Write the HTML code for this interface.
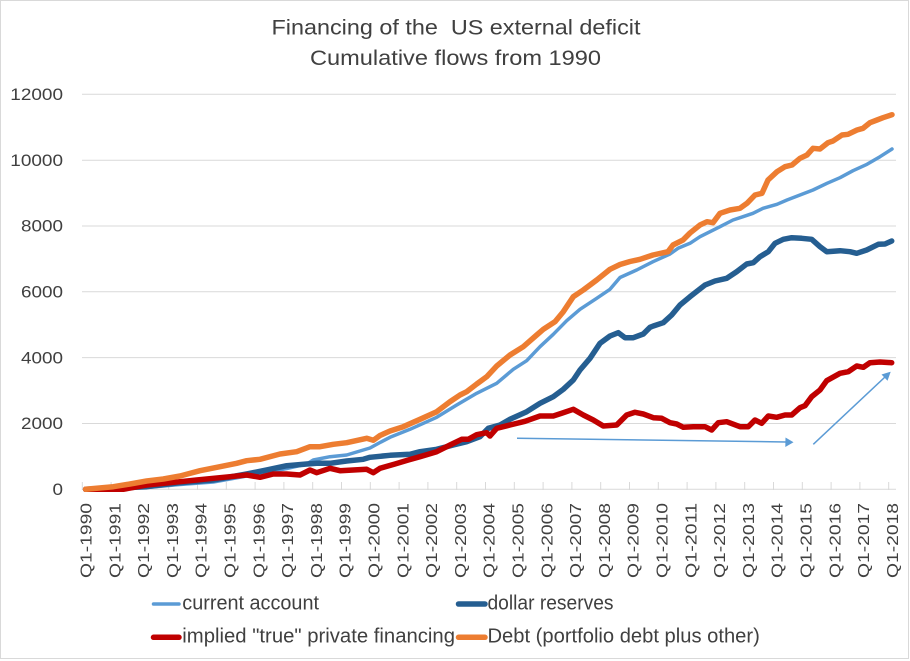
<!DOCTYPE html>
<html>
<head>
<meta charset="utf-8">
<style>
  html, body { margin: 0; padding: 0; background: #ffffff; }
  svg { display: block; }
  text { font-family: "Liberation Sans", sans-serif; fill: #404040; }
</style>
</head>
<body>
<svg width="910" height="661" viewBox="0 0 910 661" xmlns="http://www.w3.org/2000/svg">
  <rect x="0" y="0" width="910" height="661" fill="#ffffff"/>
  <rect x="0.5" y="0.5" width="908" height="658" fill="none" stroke="#D9D9D9" stroke-width="1"/>

  <!-- Title -->
  <text x="271.5" y="34.3" font-size="21" textLength="369" lengthAdjust="spacingAndGlyphs" style="white-space:pre">Financing of the  US external deficit</text>
  <text x="310" y="65" font-size="21" textLength="291" lengthAdjust="spacingAndGlyphs">Cumulative flows from 1990</text>

  <!-- Gridlines -->
  <g stroke="#D9D9D9" stroke-width="1">
    <line x1="82" y1="94.3" x2="896" y2="94.3"/>
    <line x1="82" y1="160.2" x2="896" y2="160.2"/>
    <line x1="82" y1="226" x2="896" y2="226"/>
    <line x1="82" y1="291.8" x2="896" y2="291.8"/>
    <line x1="82" y1="357.6" x2="896" y2="357.6"/>
    <line x1="82" y1="423.5" x2="896" y2="423.5"/>
    <line x1="82" y1="489.3" x2="896" y2="489.3"/>
  </g>

  <!-- X ticks -->
  <g stroke="#D9D9D9" stroke-width="1">
    <line x1="82.3" y1="482" x2="82.3" y2="490"/>
    <line x1="111.1" y1="482" x2="111.1" y2="490"/>
    <line x1="139.9" y1="482" x2="139.9" y2="490"/>
    <line x1="168.7" y1="482" x2="168.7" y2="490"/>
    <line x1="197.5" y1="482" x2="197.5" y2="490"/>
    <line x1="226.3" y1="482" x2="226.3" y2="490"/>
    <line x1="255.1" y1="482" x2="255.1" y2="490"/>
    <line x1="283.9" y1="482" x2="283.9" y2="490"/>
    <line x1="312.7" y1="482" x2="312.7" y2="490"/>
    <line x1="341.5" y1="482" x2="341.5" y2="490"/>
    <line x1="370.3" y1="482" x2="370.3" y2="490"/>
    <line x1="399.1" y1="482" x2="399.1" y2="490"/>
    <line x1="427.9" y1="482" x2="427.9" y2="490"/>
    <line x1="456.7" y1="482" x2="456.7" y2="490"/>
    <line x1="485.5" y1="482" x2="485.5" y2="490"/>
    <line x1="514.3" y1="482" x2="514.3" y2="490"/>
    <line x1="543.1" y1="482" x2="543.1" y2="490"/>
    <line x1="571.9" y1="482" x2="571.9" y2="490"/>
    <line x1="600.7" y1="482" x2="600.7" y2="490"/>
    <line x1="629.5" y1="482" x2="629.5" y2="490"/>
    <line x1="658.3" y1="482" x2="658.3" y2="490"/>
    <line x1="687.1" y1="482" x2="687.1" y2="490"/>
    <line x1="715.9" y1="482" x2="715.9" y2="490"/>
    <line x1="744.7" y1="482" x2="744.7" y2="490"/>
    <line x1="773.5" y1="482" x2="773.5" y2="490"/>
    <line x1="802.3" y1="482" x2="802.3" y2="490"/>
    <line x1="831.1" y1="482" x2="831.1" y2="490"/>
    <line x1="859.9" y1="482" x2="859.9" y2="490"/>
    <line x1="888.7" y1="482" x2="888.7" y2="490"/>
  </g>

  <!-- Y labels -->
  <g font-size="17" text-anchor="end">
    <text x="63" y="100" textLength="52.7" lengthAdjust="spacingAndGlyphs">12000</text>
    <text x="63" y="165.9" textLength="52.7" lengthAdjust="spacingAndGlyphs">10000</text>
    <text x="63" y="231.7" textLength="42" lengthAdjust="spacingAndGlyphs">8000</text>
    <text x="63" y="297.5" textLength="42" lengthAdjust="spacingAndGlyphs">6000</text>
    <text x="63" y="363.3" textLength="42" lengthAdjust="spacingAndGlyphs">4000</text>
    <text x="63" y="429.2" textLength="42" lengthAdjust="spacingAndGlyphs">2000</text>
    <text x="63" y="495" textLength="10.5" lengthAdjust="spacingAndGlyphs">0</text>
  </g>

  <!-- X labels (rotated) -->
  <g font-size="16" text-anchor="end">
    <text transform="translate(91.5,503) rotate(-90)" textLength="75" lengthAdjust="spacingAndGlyphs">Q1-1990</text>
    <text transform="translate(120.3,503) rotate(-90)" textLength="75" lengthAdjust="spacingAndGlyphs">Q1-1991</text>
    <text transform="translate(149.1,503) rotate(-90)" textLength="75" lengthAdjust="spacingAndGlyphs">Q1-1992</text>
    <text transform="translate(177.9,503) rotate(-90)" textLength="75" lengthAdjust="spacingAndGlyphs">Q1-1993</text>
    <text transform="translate(206.7,503) rotate(-90)" textLength="75" lengthAdjust="spacingAndGlyphs">Q1-1994</text>
    <text transform="translate(235.5,503) rotate(-90)" textLength="75" lengthAdjust="spacingAndGlyphs">Q1-1995</text>
    <text transform="translate(264.3,503) rotate(-90)" textLength="75" lengthAdjust="spacingAndGlyphs">Q1-1996</text>
    <text transform="translate(293.1,503) rotate(-90)" textLength="75" lengthAdjust="spacingAndGlyphs">Q1-1997</text>
    <text transform="translate(321.9,503) rotate(-90)" textLength="75" lengthAdjust="spacingAndGlyphs">Q1-1998</text>
    <text transform="translate(350.7,503) rotate(-90)" textLength="75" lengthAdjust="spacingAndGlyphs">Q1-1999</text>
    <text transform="translate(379.5,503) rotate(-90)" textLength="75" lengthAdjust="spacingAndGlyphs">Q1-2000</text>
    <text transform="translate(408.3,503) rotate(-90)" textLength="75" lengthAdjust="spacingAndGlyphs">Q1-2001</text>
    <text transform="translate(437.1,503) rotate(-90)" textLength="75" lengthAdjust="spacingAndGlyphs">Q1-2002</text>
    <text transform="translate(465.9,503) rotate(-90)" textLength="75" lengthAdjust="spacingAndGlyphs">Q1-2003</text>
    <text transform="translate(494.7,503) rotate(-90)" textLength="75" lengthAdjust="spacingAndGlyphs">Q1-2004</text>
    <text transform="translate(523.5,503) rotate(-90)" textLength="75" lengthAdjust="spacingAndGlyphs">Q1-2005</text>
    <text transform="translate(552.3,503) rotate(-90)" textLength="75" lengthAdjust="spacingAndGlyphs">Q1-2006</text>
    <text transform="translate(581.1,503) rotate(-90)" textLength="75" lengthAdjust="spacingAndGlyphs">Q1-2007</text>
    <text transform="translate(609.9,503) rotate(-90)" textLength="75" lengthAdjust="spacingAndGlyphs">Q1-2008</text>
    <text transform="translate(638.7,503) rotate(-90)" textLength="75" lengthAdjust="spacingAndGlyphs">Q1-2009</text>
    <text transform="translate(667.5,503) rotate(-90)" textLength="75" lengthAdjust="spacingAndGlyphs">Q1-2010</text>
    <text transform="translate(696.3,503) rotate(-90)" textLength="75" lengthAdjust="spacingAndGlyphs">Q1-2011</text>
    <text transform="translate(725.1,503) rotate(-90)" textLength="75" lengthAdjust="spacingAndGlyphs">Q1-2012</text>
    <text transform="translate(753.9,503) rotate(-90)" textLength="75" lengthAdjust="spacingAndGlyphs">Q1-2013</text>
    <text transform="translate(782.7,503) rotate(-90)" textLength="75" lengthAdjust="spacingAndGlyphs">Q1-2014</text>
    <text transform="translate(811.5,503) rotate(-90)" textLength="75" lengthAdjust="spacingAndGlyphs">Q1-2015</text>
    <text transform="translate(840.3,503) rotate(-90)" textLength="75" lengthAdjust="spacingAndGlyphs">Q1-2016</text>
    <text transform="translate(869.1,503) rotate(-90)" textLength="75" lengthAdjust="spacingAndGlyphs">Q1-2017</text>
    <text transform="translate(897.9,503) rotate(-90)" textLength="75" lengthAdjust="spacingAndGlyphs">Q1-2018</text>
  </g>

  <!-- Series -->
  <g fill="none" stroke-linejoin="round" stroke-linecap="round">
    <!-- current account -->
    <polyline stroke="#5B9BD5" stroke-width="3.5" points="85.6,489.3 113,489 146.7,487.5 180,484.5 213.3,482 246.7,476 266.7,472.5 286.7,468.5 306.7,464 313.3,460 330,456.7 346.7,455 363.3,450 370,448 380,442.5 390,437.3 410,429.3 436.7,417.3 456.7,405 476.7,393.3 496.7,383.3 513.3,369.3 526.7,360.7 540,346.7 553.3,334.3 566.7,320.7 580,309.3 596.7,298.3 610,289.3 620,277.5 636.7,270 653,261.7 670,254 678,248.3 690,243.3 700,236.7 710,231.7 720,226.7 733,220 743,216.7 753,213.3 763,208.3 777,204.3 787,200 800,195 813,190 827,183.3 840,177.7 853,170.7 867,164.3 880,156.7 892,149"/>
    <!-- dollar reserves -->
    <polyline stroke="#255E91" stroke-width="5.5" points="85.6,489.3 113,488.3 146.7,486.7 180,482.7 213.3,480 246.7,474 266.7,470 286.7,465.7 306.7,464 316.7,463.3 330,463.3 346.7,461 363.3,459.3 370,457.3 390,455.3 410,454.3 420,451.7 436.7,449.3 453.3,445 466.7,441.7 480,436.7 488.3,428.3 500,425 510,419.3 526.7,411.7 540,403.3 553.3,396.7 563.3,389.3 573.3,380 580,370 590,358.3 600,343.3 610,336 618.3,332.7 625,337.7 633.3,337.7 643.3,334 650,327.3 653.3,326 663.3,322.7 671.7,315 680,305 690,296.7 705,285 715,281 726.7,278.3 736.7,271.7 746.7,264 753.3,262.7 760,256.7 768.3,251.7 775,243.3 783.3,239.3 791.7,237.7 801.7,238.3 811.7,239.3 820,246.7 826.7,251.7 840,250.7 850,251.7 856.7,253.3 866.7,250 878.3,244.3 885,244 891.7,241"/>
    <!-- implied private financing -->
    <polyline stroke="#C00000" stroke-width="5.5" points="85.6,489.3 123.3,489.3 146.7,485 180,481.7 196.7,480 213.3,478.3 230,476.7 246.7,475 260,477.3 273.3,474 286.7,474 300,475 310,470 316.7,472.7 330,468.3 340,470.7 353.3,470 366.7,469.3 373.3,472.7 380,468.3 395,464 408.3,460 420,456.7 436.7,451.7 450,445 461.7,439.3 468.3,439.3 476.7,434.7 486.7,432.7 490,436 496.7,428.3 510,425 525,421.3 540,416 553.3,416 561.7,413.3 573.3,409.3 583.3,415 593.3,420 603.3,426 616.7,425 626.7,415 635,412.3 643.3,414 653.3,417.7 661.7,418.3 670,422.7 676.7,424 683.3,427.3 693.3,426.7 705,426.7 711.7,430 718.3,422.7 726.7,421.7 740,426.7 748.3,426.7 755,420 761.7,423.3 768.3,416 776.7,417.3 785,415 791.7,415 800,407.7 805,405.7 811.7,396.7 820,390 826.7,380.7 840,373.3 848.3,371.7 856.7,366 863.3,367.3 870,362.7 880,362 891.7,362.7"/>
    <!-- Debt -->
    <polyline stroke="#ED7D31" stroke-width="5.5" points="85.6,489.3 113.3,486.7 130,484 146.7,481 163.3,479 180,476 200,470.7 220,466.7 236.7,463.3 246.7,460.7 260,459.3 280,454 296.7,451.7 310,446.7 320,446.7 333.3,444.3 346.7,442.7 366.7,438.3 373.3,440.3 380,435.5 390,431 403.3,426.7 420,419.3 436.7,411.7 450,401.7 460,395 466.7,391.7 476.7,384 486.7,376.7 496.7,366 510,355 523.3,346.7 536.7,335 543.3,329.3 555,321.7 563.3,311.7 573.3,296.7 583.3,290 596.7,280 610,269.3 620,264.5 630,261.5 640,259.3 653,255 668,251.7 673,245 683,240 690,233 700,225 707,221.7 713,222.7 720,213.3 730,210 740,208.3 747,203.3 755,195 762,193.3 768,180 777,171.7 785,166.7 792,165 800,158.3 807,155 813,148.3 820,149 828,142.7 833,141 842,135 848,134.3 857,130 863,128.3 870,122.7 877,120 883,117.7 892,114.7"/>
  </g>

  <!-- Annotation arrows -->
  <g stroke="#5B9BD5" stroke-width="1.5" fill="none">
    <line x1="517" y1="438.3" x2="786" y2="442"/>
    <line x1="813.3" y1="444.3" x2="885" y2="377"/>
  </g>
  <polygon points="793.5,442.3 785.5,437.5 785.3,447" fill="#5B9BD5"/>
  <polygon points="890.7,371.7 881.5,374.5 887.5,380.8" fill="#5B9BD5"/>

  <!-- Legend -->
  <g stroke-linecap="round" fill="none">
    <line x1="153.5" y1="604" x2="179" y2="604" stroke="#5B9BD5" stroke-width="3.5"/>
    <line x1="458.5" y1="604" x2="485" y2="604" stroke="#255E91" stroke-width="5.5"/>
    <line x1="153.5" y1="637.3" x2="179" y2="637.3" stroke="#C00000" stroke-width="5.5"/>
    <line x1="458.5" y1="637.3" x2="485" y2="637.3" stroke="#ED7D31" stroke-width="5.5"/>
  </g>
  <g font-size="20">
    <text x="182.3" y="609.5" textLength="136.7" lengthAdjust="spacingAndGlyphs">current account</text>
    <text x="487.5" y="609.5" textLength="126" lengthAdjust="spacingAndGlyphs">dollar reserves</text>
    <text x="182.3" y="642.5" textLength="272.7" lengthAdjust="spacingAndGlyphs">implied "true" private financing</text>
    <text x="487.5" y="642.5" textLength="272.3" lengthAdjust="spacingAndGlyphs">Debt (portfolio debt plus other)</text>
  </g>
</svg>
</body>
</html>
